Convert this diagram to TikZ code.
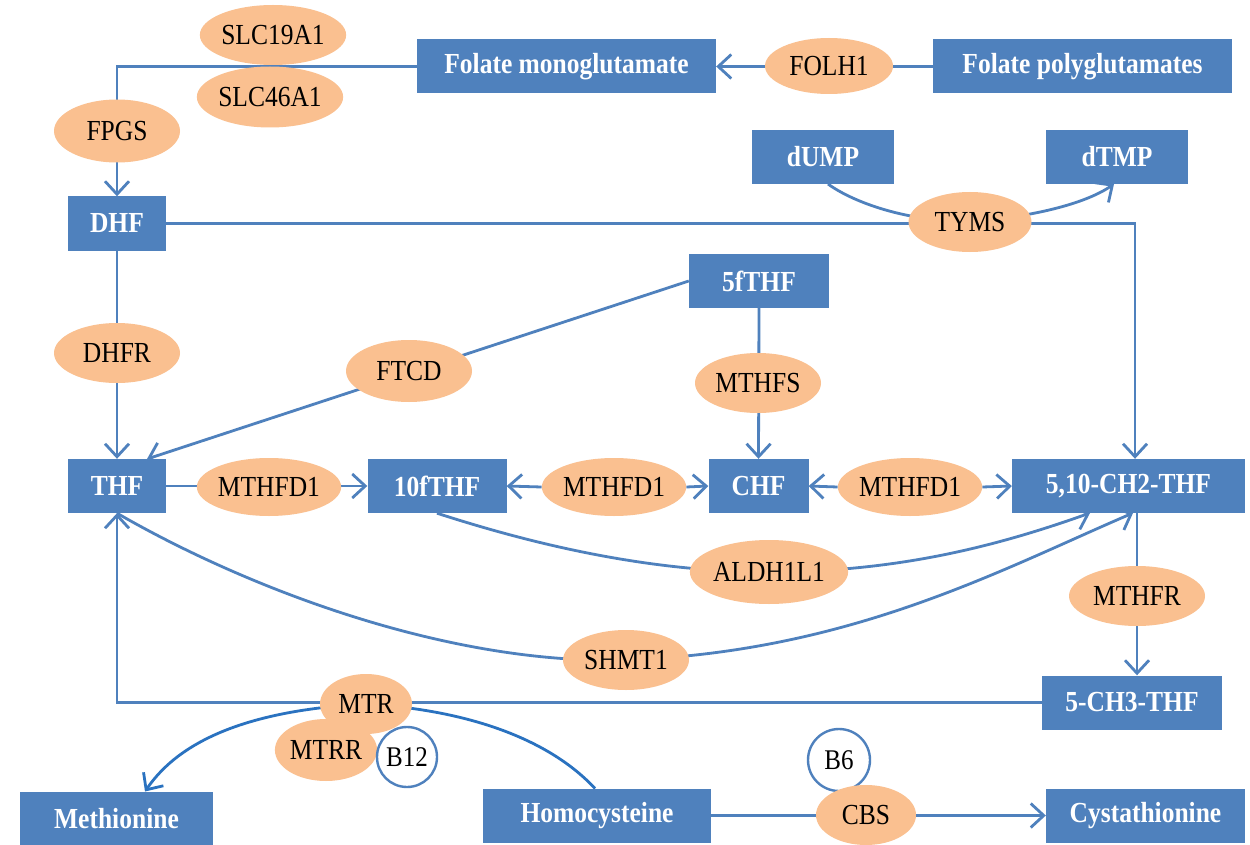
\documentclass[tikz,border=0pt]{standalone}
\usepackage{graphicx}
\usepackage{fontspec}
\setmainfont{Liberation Serif}
\usetikzlibrary{arrows.meta,shapes.geometric,calc}
\definecolor{boxblue}{HTML}{4F81BD}
\definecolor{peach}{HTML}{FAC090}
\definecolor{darkln}{HTML}{2A72C0}
\pgfdeclarelayer{bg}
\pgfsetlayers{bg,main}
\newcommand{\sx}[1]{\scalebox{1}[1.14]{#1}}
\begin{document}
\begin{tikzpicture}[x=1pt,y=-1pt,
  box/.style={fill=boxblue,text=white,font=\bfseries\fontsize{25.5}{25.5}\selectfont,inner sep=0pt,minimum height=54pt},
  enz/.style={ellipse,fill=peach,inner sep=0pt,font=\fontsize{25.5}{25.5}\selectfont,minimum width=126pt,minimum height=60pt},
  vit/.style={circle,draw=boxblue,line width=2.4pt,fill=white,inner sep=0pt,minimum size=58pt,font=\fontsize{25}{25}\selectfont},
  conn/.style={draw=boxblue,line width=2.8pt},
  arr/.style={conn,-{Straight Barb[length=13pt,width=24pt]}},
  dconn/.style={draw=darkln,line width=2.8pt},
  darr/.style={dconn,-{Straight Barb[length=13pt,width=24pt]}}
]
\useasboundingbox (0,0) rectangle (1250,845);

% boxes
\node[box,minimum width=299pt] (fm) at (566.5,66.5) {\sx{Folate monoglutamate}};
\node[box,minimum width=299pt] (fp) at (1082.5,66.5) {\sx{Folate polyglutamates}};
\node[box,minimum width=142pt] (dump) at (823,157) {\sx{dUMP}};
\node[box,minimum width=142pt] (dtmp) at (1117,157) {\sx{dTMP}};
\node[box,minimum width=98pt] (dhf) at (117,223.5) {\sx{DHF}};
\node[box,minimum width=140pt] (f5) at (759,281) {\sx{5fTHF}};
\node[box,minimum width=98pt] (thf) at (117,486) {\sx{THF}};
\node[box,minimum width=139pt] (tenf) at (437,486) {\sx{10fTHF}};
\node[box,minimum width=100pt] (chf) at (758.5,486) {\sx{CHF}};
\node[box,minimum width=233pt] (ch2) at (1128.5,486) {\sx{5,10-CH2-THF}};
\node[box,minimum width=180pt] (ch3) at (1132,702.5) {\sx{5-CH3-THF}};
\node[box,minimum width=193pt] (met) at (116.5,818.5) {\sx{Methionine}};
\node[box,minimum width=228pt] (hcy) at (597,815.5) {\sx{Homocysteine}};
\node[box,minimum width=199pt] (cys) at (1145.5,815.5) {\sx{Cystathionine}};

% enzymes
\node[enz] (slc19) at (273,35) {\sx{SLC19A1}};
\node[enz,minimum height=61pt] (slc46) at (270,97) {\sx{SLC46A1}};
\node[enz,minimum height=63pt] (fpgs) at (117,131) {\sx{FPGS}};
\node[enz,minimum width=128pt,minimum height=56pt] (folh) at (829,66) {\sx{FOLH1}};
\node[enz,minimum width=123pt] (tyms) at (970,222) {\sx{TYMS}};
\node[enz] (dhfr) at (117,353) {\sx{DHFR}};
\node[enz,minimum height=62pt] (ftcd) at (409,371) {\sx{FTCD}};
\node[enz] (mthfs) at (758,383) {\sx{MTHFS}};
\node[enz,minimum height=58pt] (m1) at (269,487) {\sx{MTHFD1}};
\node[enz,minimum height=58pt] (m2) at (614,487) {\sx{MTHFD1}};
\node[enz,minimum height=58pt] (m3) at (910,487) {\sx{MTHFD1}};
\node[enz,minimum height=64pt] (aldh) at (769,572) {\sx{ALDH1L1}};
\node[enz,minimum width=136pt] (mthfr) at (1137,596) {\sx{MTHFR}};
\node[enz] (shmt) at (626,660) {\sx{SHMT1}};
\node[enz,minimum width=90pt,minimum height=62pt] (mtrr) at (326,750) {\sx{MTRR}};
\node[enz,minimum width=92pt] (mtr) at (366,704) {\sx{MTR}};
\node[vit,minimum size=60pt] (b12) at (407,757) {\sx{B12}};
\node[vit,minimum size=62pt] (b6) at (839,760) {\sx{B6}};
\node[enz,minimum width=100pt] (cbs) at (866,815) {\sx{CBS}};

% free ends
\coordinate (tr) at (1135,223.5);
\coordinate (ftip) at (147,459);
\coordinate (a1) at (1090,513);
\coordinate (a2) at (1133,513);
\coordinate (dus) at (828,184);
\coordinate (dts) at (1114,184);
\coordinate (mets) at (145,791.5);
\coordinate (hcyn) at (595,788.5);

\begin{pgfonlayer}{bg}
\fill[white] (0,0) rectangle (1250,845);
\draw[arr] (fp.west) -- (fm.east);
\draw[arr] (fm.west) -| (dhf.north);
\draw[arr] (dhf.east) -- (tr) -- (tr |- ch2.north);
\draw[conn] (dus) .. controls (850,200) and (900,221) .. (tyms.center);
\draw[arr] (tyms.center) .. controls (1040,216) and (1088,202) .. (dts);
\draw[arr] (dhf.south) -- (thf.north);
\draw[arr] (f5.west) -- (ftip);
\draw[arr] (f5.south) -- (chf.north);
\draw[arr] (thf.east) -- (tenf.west);
\draw[arr] (m2.west) -- (tenf.east);
\draw[arr] (m2.east) -- (chf.west);
\draw[arr] (m3.west) -- (chf.east);
\draw[arr] (m3.east) -- (ch2.west);
\draw[conn] (tenf.south) .. controls (520,540) and (640,572) .. (aldh.center);
\draw[arr] (aldh.center) .. controls (900,572) and (1000,545) .. (a1);
\draw[conn] (thf.south) .. controls (250,590) and (450,665) .. (shmt.center);
\draw[arr] (shmt.center) .. controls (850,652) and (1000,570) .. (a2);
\draw[arr] (ch2.south -| mthfr) -- (ch3.north -| mthfr);
\draw[arr] (ch3.west) -| (thf.south);
\draw[darr] (mtr.center) .. controls (250,710) and (180,740) .. (mets);
\draw[dconn] (mtr.center) .. controls (470,710) and (550,740) .. (hcyn);
\draw[arr] (hcy.east) -- (cys.west);
\end{pgfonlayer}
\end{tikzpicture}
\end{document}
